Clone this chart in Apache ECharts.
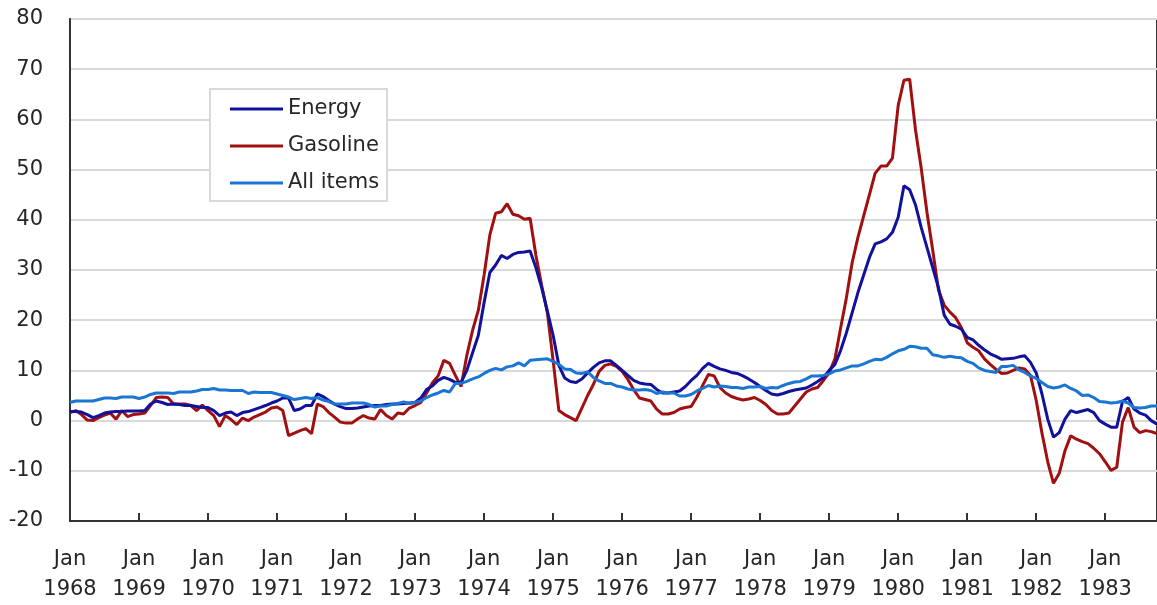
<!DOCTYPE html>
<html>
<head>
<meta charset="utf-8">
<script src="https://cdn.jsdelivr.net/npm/echarts@6/dist/echarts.min.js"></script>
<style>
  html, body { margin: 0; padding: 0; background: #fff; }
  #main { width: 1157px; height: 605px; }
</style>
</head>
<body>
<div id="main"></div>
<script>
// monthly, Jan 1968 .. Oct 1983, percent change from a year earlier
var startYear = 1968
var monthCount = 190
var yTicks = [-20, -10, 0, 10, 20, 30, 40, 50, 60, 70, 80]

var energy = [
  1.8, 1.8, 1.7, 1.2, 0.6, 1.0, 1.5, 1.7, 1.8, 1.8, 1.9, 1.9,
  1.9, 2.0, 3.3, 3.9, 3.6, 3.2, 3.3, 3.2, 3.0, 3.0, 2.8, 2.6,
  2.6, 2.0, 1.0, 1.5, 1.7, 1.0, 1.6, 1.8, 2.2, 2.6, 3.0, 3.5,
  3.9, 4.5, 4.5, 2.0, 2.3, 3.0, 3.0, 5.3, 4.8, 4.0, 3.3, 2.8,
  2.4, 2.4, 2.5, 2.7, 2.9, 3.0, 3.0, 3.2, 3.3, 3.3, 3.4, 3.5,
  3.6, 4.5, 6.2, 6.9, 8.0, 8.6, 8.2, 7.6, 7.6, 10.0, 13.5, 17.0,
  23.5, 29.5, 31.0, 32.9, 32.3, 33.1, 33.5, 33.6, 33.8, 30.5, 26.5, 21.8,
  17.0, 11.0, 8.5, 7.8, 7.6, 8.3, 9.5, 10.6, 11.5, 11.9, 11.9, 11.0,
  10.0, 9.0, 8.0, 7.5, 7.3, 7.2, 6.2, 5.5, 5.5, 5.7, 5.9, 6.8,
  8.0, 9.0, 10.4, 11.4, 10.8, 10.3, 10.0, 9.6, 9.4, 8.9, 8.3, 7.6,
  6.8, 6.0, 5.3, 5.1, 5.4, 5.8, 6.1, 6.3, 6.5, 7.1, 7.8, 8.6,
  10.0, 11.2, 14.0, 17.5, 21.5, 25.5, 29.0, 32.5, 35.2, 35.6, 36.2, 37.5,
  40.5, 46.8, 46.0, 43.0, 38.5, 34.5, 30.5, 26.5, 21.0, 19.2, 18.8, 18.2,
  16.6, 16.1, 15.0, 14.1, 13.3, 12.8, 12.2, 12.3, 12.4, 12.7, 12.9, 11.6,
  9.5, 5.3, 0.3, -3.3, -2.4, 0.3, 2.0, 1.6, 1.9, 2.2, 1.6, 0.0,
  -0.7, -1.3, -1.3, 3.8, 4.6, 2.3, 1.5, 1.1, 0.0, -0.7
]

var gasoline = [
  1.6, 2.0, 1.2, 0.1, 0.0, 0.6, 1.1, 1.5, 0.3, 2.0, 0.8, 1.2,
  1.3, 1.5, 3.0, 4.6, 4.7, 4.6, 3.3, 3.3, 3.3, 3.0, 2.0, 3.1,
  2.0, 1.0, -1.2, 1.0, 0.2, -0.8, 0.5, 0.0, 0.7, 1.2, 1.7, 2.5,
  2.7, 2.0, -3.0, -2.5, -2.0, -1.6, -2.6, 3.3, 2.8, 1.6, 0.7, -0.3,
  -0.5, -0.5, 0.3, 1.0, 0.5, 0.3, 2.2, 1.0, 0.3, 1.5, 1.3, 2.5,
  3.0, 3.6, 5.5, 7.5, 8.9, 12.0, 11.4, 9.0, 6.8, 13.0, 18.0, 22.0,
  29.0, 37.0, 41.3, 41.6, 43.2, 41.1, 40.8, 40.1, 40.3, 33.0, 27.0, 21.5,
  12.0, 2.0, 1.2, 0.6, 0.0, 2.5, 5.0, 7.2, 9.8, 11.0, 11.3, 10.8,
  9.8, 8.2, 6.2, 4.5, 4.2, 3.9, 2.3, 1.3, 1.3, 1.6, 2.3, 2.6,
  2.8, 4.7, 7.0, 9.2, 8.9, 6.6, 5.5, 4.8, 4.4, 4.1, 4.3, 4.6,
  4.0, 3.2, 2.0, 1.3, 1.3, 1.5, 2.9, 4.3, 5.7, 6.3, 6.6, 8.0,
  9.5, 12.3, 18.5, 24.5, 31.5, 36.5, 40.8, 45.0, 49.3, 50.7, 50.7, 52.3,
  62.8, 67.8, 68.0, 58.0, 50.3, 41.5, 34.0, 26.0, 23.0, 21.6, 20.5, 18.5,
  15.5, 14.6, 13.9, 12.3, 11.2, 10.2, 9.4, 9.5, 10.0, 10.5, 10.3, 9.0,
  4.0, -2.5, -8.2, -12.5, -10.5, -6.0, -3.0, -3.7, -4.2, -4.6, -5.5, -6.6,
  -8.2, -9.9, -9.3, -0.3, 2.6, -1.3, -2.4, -2.0, -2.2, -2.6
]

var allItems = [
  3.6, 3.9, 3.9, 3.9, 3.9, 4.2, 4.5, 4.5, 4.4, 4.7, 4.7, 4.7,
  4.4, 4.7, 5.2, 5.5, 5.5, 5.5, 5.4, 5.7, 5.7, 5.7, 5.9, 6.2,
  6.2, 6.4, 6.1, 6.1, 6.0, 6.0, 6.0, 5.4, 5.7, 5.6, 5.6, 5.6,
  5.3, 5.0, 4.7, 4.2, 4.4, 4.6, 4.4, 4.6, 4.1, 3.8, 3.3, 3.3,
  3.3, 3.5, 3.5, 3.5, 3.2, 2.7, 2.9, 2.9, 3.2, 3.4, 3.7, 3.4,
  3.6, 3.9, 4.6, 5.1, 5.5, 6.0, 5.7, 7.4, 7.4, 7.8, 8.3, 8.7,
  9.4, 10.0, 10.4, 10.1, 10.7, 10.9, 11.5, 10.9, 12.0, 12.1, 12.2, 12.3,
  11.8, 11.2, 10.3, 10.2, 9.5, 9.4, 9.7, 8.6, 7.9, 7.4, 7.4, 6.9,
  6.7, 6.3, 6.1, 6.1, 6.2, 6.0, 5.4, 5.7, 5.5, 5.5, 4.9, 4.9,
  5.2, 5.9, 6.4, 7.0, 6.7, 6.9, 6.8, 6.6, 6.6, 6.4, 6.7, 6.7,
  6.8, 6.4, 6.6, 6.5, 7.0, 7.4, 7.7, 7.8, 8.3, 8.9, 8.9, 9.0,
  9.3, 9.9, 10.1, 10.5, 10.9, 10.9, 11.3, 11.8, 12.2, 12.1, 12.6, 13.3,
  13.9, 14.2, 14.8, 14.7, 14.4, 14.4, 13.1, 12.9, 12.6, 12.8, 12.6, 12.5,
  11.8, 11.4, 10.5, 10.0, 9.8, 9.6, 10.8, 10.8, 11.0, 10.1, 9.6, 8.9,
  8.4, 7.6, 6.8, 6.5, 6.7, 7.1, 6.4, 5.9, 5.0, 5.1, 4.6, 3.8,
  3.7, 3.5, 3.6, 3.9, 3.5, 2.6, 2.5, 2.6, 2.9, 2.9
]

var months = []
for (var i = 0; i < monthCount; i++) {
  months.push((startYear + Math.floor(i / 12)) + '-' + (i % 12 + 1))
}

var font = 'DejaVu Sans'
var textColor = '#262626'
var axisColor = '#333'
var myChart = echarts.init(document.getElementById('main'), null, { renderer: 'canvas' })

var option = {
  animation: false,
  backgroundColor: '#fff',
  grid: {
    left: 70,
    right: 0,
    top: 19,
    bottom: 79,
    show: true,
    borderColor: axisColor,
    borderWidth: 2
  },
  legend: {
    orient: 'vertical',
    left: 210,
    top: 89,
    padding: [8, 8, 6, 20],
    itemGap: 13,
    itemWidth: 53,
    itemHeight: 3,
    icon: 'rect',
    borderColor: '#d9d9d9',
    borderWidth: 2,
    backgroundColor: '#fff',
    textStyle: { fontFamily: font, fontSize: 21, color: textColor, lineHeight: 24 },
    data: ['Energy', 'Gasoline', 'All items']
  },
  xAxis: {
    type: 'category',
    data: months,
    boundaryGap: false,
    axisLine: { show: true, onZero: false, lineStyle: { color: axisColor, width: 2 } },
    axisTick: { show: true, inside: true, length: 8, interval: 11, lineStyle: { color: axisColor, width: 2 } },
    axisLabel: {
      interval: 11,
      margin: 24,
      fontFamily: font,
      fontSize: 21,
      lineHeight: 30,
      color: textColor,
      formatter: function (v) {
        return 'Jan\n' + v.split('-')[0]
      }
    },
    splitLine: { show: false }
  },
  yAxis: {
    type: 'value',
    min: yTicks[0],
    max: yTicks[yTicks.length - 1],
    interval: 10,
    axisLine: { show: true, onZero: false, lineStyle: { color: axisColor, width: 2 } },
    axisTick: { show: false },
    axisLabel: { margin: 27, fontFamily: font, fontSize: 21, color: textColor, padding: [3, 0, 0, 0] },
    splitLine: { lineStyle: { color: '#d9d9d9', width: 2 } }
  },
  series: [
    {
      name: 'Energy',
      type: 'line',
      data: energy,
      symbol: 'none',
      itemStyle: { color: '#11119c' },
      lineStyle: { color: '#11119c', width: 3 },
      z: 3
    },
    {
      name: 'Gasoline',
      type: 'line',
      data: gasoline,
      symbol: 'none',
      itemStyle: { color: '#a01010' },
      lineStyle: { color: '#a01010', width: 3 },
      z: 2
    },
    {
      name: 'All items',
      type: 'line',
      data: allItems,
      symbol: 'none',
      itemStyle: { color: '#1a76d2' },
      lineStyle: { color: '#1a76d2', width: 3 },
      z: 4
    }
  ]
}
myChart.setOption(option)
</script>
</body>
</html>
